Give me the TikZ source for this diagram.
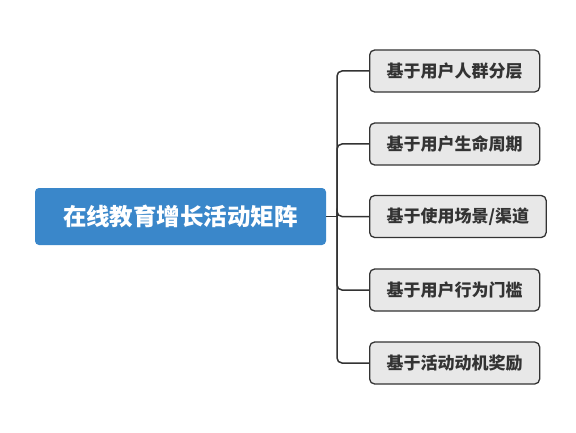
\documentclass[tikz,border=0pt]{standalone}
\usepackage{fontspec}
\setmainfont{Noto Sans CJK SC}
\usetikzlibrary{positioning}
\definecolor{mblue}{RGB}{58,135,202}
\definecolor{mgray}{RGB}{232,232,232}
\definecolor{mdark}{RGB}{51,51,51}
\tikzset{rootbox/.style = {fill=mblue, rounded corners=4pt, text=white, font=\fontsize{23.5}{26}\selectfont\bfseries, minimum width=291, minimum height=57, inner sep=0}}
\tikzset{leafbox/.style = {draw=mdark, fill=mgray, line width=1.3, rounded corners=5pt, text=mdark, font=\fontsize{17}{20}\selectfont\bfseries, minimum height=42, inner xsep=17, inner ysep=0, anchor=west}}
\tikzset{link/.style = {draw=mdark, line width=1.5}}

\begin{document}
\begin{tikzpicture}[x=1pt, y=1pt]
      \useasboundingbox (0, 0) rectangle (576, 432);
      \node [rootbox] (matrix) at (180.5, 215.5) {在线教育增长活动矩阵};
      \coordinate (fork) at (337, 215.5);
      \draw [link] (matrix.east) -- (fork);

      \foreach \name/\y/\txt in {crowd/361/基于用户人群分层, life/288/基于用户生命周期, scene/215.5/{基于使用场景/渠道}, act/142/基于用户行为门槛, motive/69/基于活动动机奖励} {
        \node [leafbox] (\name) at (369, \y) {\txt};
        \draw [link, rounded corners=5pt] (fork) |- (\name.west);
      }
    \end{tikzpicture}
\end{document}
